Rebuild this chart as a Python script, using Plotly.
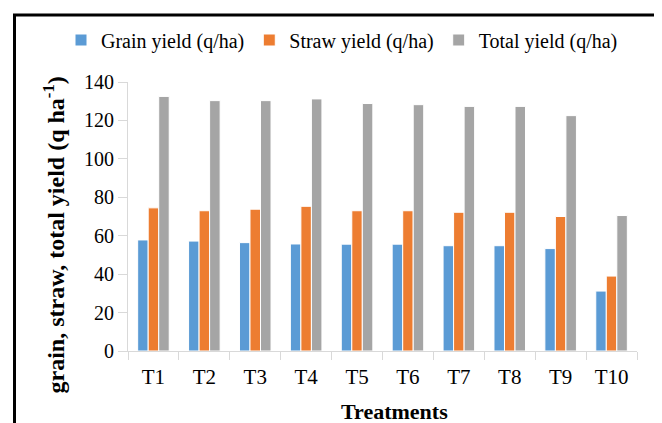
import plotly.graph_objects as go

categories = ["T1", "T2", "T3", "T4", "T5", "T6", "T7", "T8", "T9", "T10"]
grain_yield = [57.8, 57.2, 56.4, 55.7, 55.6, 55.6, 54.8, 54.8, 53.3, 31.2]
straw_yield = [74.5, 73.0, 73.8, 75.3, 73.0, 73.0, 72.2, 72.2, 70.0, 39.0]
total_yield = [132.5, 130.3, 130.3, 131.2, 128.8, 128.2, 127.3, 127.3, 122.5, 70.5]
series_names = ["Grain yield (q/ha)", "Straw yield (q/ha)", "Total yield (q/ha)"]
colors = ["#5B9BD5", "#ED7D31", "#A5A5A5"]
y_ticks = [0, 20, 40, 60, 80, 100, 120, 140]

W, H = 662, 423
OFF = 8  # page body margin offset
L, R, T, B = 128, 637, 82, 351  # plot area in window pixels

def px(x):
    return (x - OFF) / W

def py(y):
    return 1 - (y - OFF) / H

FONT = "Liberation Serif, Times New Roman, serif"

fig = go.Figure()
for name, vals, c in zip(series_names, [grain_yield, straw_yield, total_yield], colors):
    fig.add_trace(go.Bar(
        x=categories, y=vals, name=name,
        marker=dict(color=c, line=dict(color="white", width=1)),
    ))

fig.update_layout(
    width=W, height=H,
    margin=dict(l=0, r=0, t=0, b=0, pad=0, autoexpand=False),
    paper_bgcolor="white", plot_bgcolor="white",
    barmode="group", bargap=0.38, bargroupgap=0.0,
    font=dict(family=FONT, size=20, color="black"),
    showlegend=True,
    legend=dict(
        orientation="h", x=px(342), y=py(40), xanchor="center", yanchor="middle",
        font=dict(family=FONT, size=20, color="black"),
        bgcolor="rgba(0,0,0,0)", itemclick=False,
    ),
    xaxis=dict(
        domain=[px(L), px(R)],
        showline=True, linecolor="#D9D9D9", linewidth=1,
        ticks="outside", tickson="boundaries", ticklen=8, tickcolor="#D9D9D9",
        ticklabelstandoff=7,
        showgrid=False, tickfont=dict(family=FONT, size=21, color="black"),
    ),
    yaxis=dict(
        domain=[py(B), py(T)],
        range=[0, 140], tickvals=y_ticks,
        showline=True, linecolor="#D9D9D9", linewidth=1,
        ticks="outside", ticklen=9, tickcolor="#D9D9D9",
        showgrid=False, zeroline=False,
        tickfont=dict(family=FONT, size=20, color="black"),
    ),
    annotations=[
        dict(text="<b>grain, straw, total yield (q ha<sup>-1</sup>)</b>",
             xref="paper", yref="paper", x=px(53), y=py(235.5),
             xanchor="center", yanchor="middle", textangle=-90, showarrow=False,
             font=dict(family=FONT, size=24, color="black")),
        dict(text="<b>Treatments</b>",
             xref="paper", yref="paper", x=px(394), y=py(411),
             xanchor="center", yanchor="middle", showarrow=False,
             font=dict(family=FONT, size=22, color="black")),
    ],
    shapes=[
        dict(type="rect", xref="paper", yref="paper",
             x0=px(14.5), x1=px(656.5), y0=py(470), y1=py(15),
             line=dict(color="black", width=3), fillcolor="rgba(0,0,0,0)", layer="above"),
    ],
)

fig.write_html("out.html")
